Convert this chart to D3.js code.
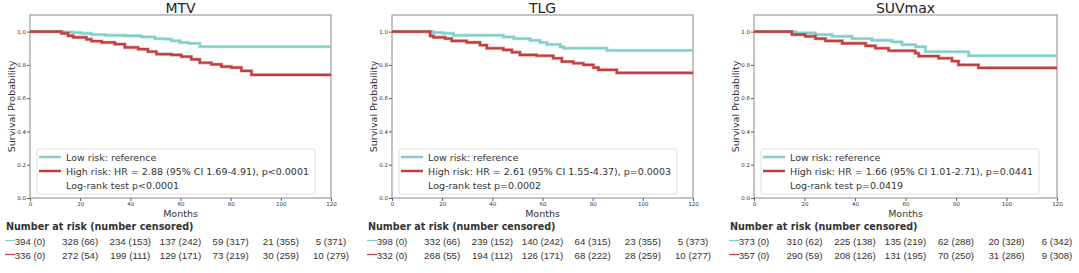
<!DOCTYPE html>
<html>
<head>
<meta charset="utf-8">
<script src="https://cdn.jsdelivr.net/npm/d3@7"></script>
<style>
body { margin: 0; background: #fff; }
svg { font-family: "DejaVu Sans", sans-serif; }
</style>
</head>
<body>
<svg width="1079" height="273"></svg>
<script>
// survival curves, [month, probability] steps
var mtvLow = [[0,1],[12.5,1],[13.5,0.997],[17,0.994],[20.5,0.99],[24.5,0.982],[30,0.978],[38,0.975],[44.4,0.968],[49.7,0.958],[54,0.955],[56.4,0.945],[59.7,0.935],[63,0.93],[67.7,0.91],[120,0.91]];
var mtvHigh = [[0,1],[11.8,1],[12.5,0.99],[15.2,0.975],[17.2,0.966],[22.5,0.954],[24.5,0.943],[28.5,0.935],[33.8,0.925],[37.8,0.905],[43.1,0.895],[47,0.88],[50.4,0.865],[56.4,0.86],[60.3,0.85],[64.3,0.833],[67.7,0.813],[72.3,0.803],[76.3,0.79],[80.3,0.784],[84.3,0.764],[88.3,0.74],[120,0.74]];
var tlgLow = [[0,1],[12.5,1],[16.6,0.994],[20.5,0.99],[24.5,0.978],[44.4,0.968],[48.5,0.958],[55,0.948],[59,0.935],[61.7,0.923],[67,0.909],[68.4,0.9],[85.7,0.887],[120,0.887]];
var tlgHigh = [[0,1],[11.8,1],[15.2,0.974],[16.5,0.966],[21.2,0.958],[23.8,0.944],[29.8,0.935],[35.1,0.919],[37.8,0.9],[44.4,0.89],[47.8,0.876],[51,0.86],[57.7,0.855],[64.3,0.84],[67.7,0.82],[72.3,0.81],[76.3,0.8],[80.3,0.784],[82.3,0.77],[89.6,0.752],[120,0.752]];
var suvLow = [[0,1],[12.4,1],[16.4,0.992],[24.3,0.982],[31,0.972],[38.8,0.958],[46.7,0.948],[54.7,0.938],[58.6,0.922],[64,0.909],[67.9,0.879],[85,0.855],[120,0.855]];
var suvHigh = [[0,1],[11.7,1],[15,0.982],[20.3,0.972],[24.3,0.958],[28.3,0.944],[34.9,0.93],[44.2,0.915],[48.1,0.9],[53.3,0.885],[63.9,0.87],[65.2,0.853],[73.1,0.84],[78.4,0.823],[81,0.8],[88.9,0.782],[120,0.782]];

var titles = ["MTV", "TLG", "SUVmax"];
var lowLabel = "Low risk: reference";
var highLabels = ["High risk: HR = 2.88 (95% CI 1.69-4.91), p<0.0001",
                  "High risk: HR = 2.61 (95% CI 1.55-4.37), p=0.0003",
                  "High risk: HR = 1.66 (95% CI 1.01-2.71), p=0.0441"];
var logrank = ["Log-rank test p<0.0001", "Log-rank test p=0.0002", "Log-rank test p=0.0419"];

var riskTimes = [0, 20, 40, 60, 80, 100, 120];
var mtvRiskLow = ["394 (0)","328 (66)","234 (153)","137 (242)","59 (317)","21 (355)","5 (371)"];
var mtvRiskHigh = ["336 (0)","272 (54)","199 (111)","129 (171)","73 (219)","30 (259)","10 (279)"];
var tlgRiskLow = ["398 (0)","332 (66)","239 (152)","140 (242)","64 (315)","23 (355)","5 (373)"];
var tlgRiskHigh = ["332 (0)","268 (55)","194 (112)","126 (171)","68 (222)","28 (259)","10 (277)"];
var suvRiskLow = ["373 (0)","310 (62)","225 (138)","135 (219)","62 (288)","20 (328)","6 (342)"];
var suvRiskHigh = ["357 (0)","290 (59)","208 (126)","131 (195)","70 (250)","31 (286)","9 (308)"];

var xTicks = [0, 20, 40, 60, 80, 100, 120];
var yTicks = [0, 0.2, 0.4, 0.6, 0.8, 1.0];

var lowColor = "#80d0c7", highColor = "#c43d3d";

var svg = d3.select("svg");

var panels = [
  {left: 30, width: 301, low: mtvLow, high: mtvHigh, rl: mtvRiskLow, rh: mtvRiskHigh},
  {left: 392, width: 301, low: tlgLow, high: tlgHigh, rl: tlgRiskLow, rh: tlgRiskHigh},
  {left: 754, width: 303, low: suvLow, high: suvHigh, rl: suvRiskLow, rh: suvRiskHigh}
];
var plotTop = 15, plotBottom = 198;

panels.forEach(function(p, i) {
  var x = d3.scaleLinear().domain([0, 120]).range([p.left, p.left + p.width]);
  var y = d3.scaleLinear().domain([0, 1.1]).range([plotBottom, plotTop]);
  var g = svg.append("g");

  g.append("text").attr("x", p.left + p.width / 2).attr("y", 13)
    .attr("text-anchor", "middle").attr("font-size", 14).attr("fill", "#222")
    .text(titles[i]);

  // axes
  var xa = g.append("g").attr("transform", "translate(0," + plotBottom + ")")
    .call(d3.axisBottom(x).tickValues(xTicks).tickSize(3).tickPadding(1).tickFormat(d3.format("d")));
  var ya = g.append("g").attr("transform", "translate(" + p.left + ",0)")
    .call(d3.axisLeft(y).tickValues(yTicks).tickSize(3).tickPadding(1).tickFormat(d3.format(".1f")));
  [xa, ya].forEach(function(a) {
    a.selectAll("text").attr("font-size", 5.5).attr("fill", "#333").attr("font-family", "DejaVu Sans");
    a.selectAll("line").attr("stroke", "#555");
    a.select(".domain").remove();
  });
  g.append("rect").attr("x", p.left).attr("y", plotTop).attr("width", p.width).attr("height", plotBottom - plotTop)
    .attr("fill", "none").attr("stroke", "#888").attr("stroke-width", 1);

  g.append("text").attr("transform", "translate(" + (p.left - 15) + "," + ((plotTop + plotBottom) / 2) + ") rotate(-90)")
    .attr("text-anchor", "middle").attr("font-size", 9.5).attr("fill", "#333")
    .text("Survival Probability");
  g.append("text").attr("x", p.left + p.width / 2).attr("y", 217)
    .attr("text-anchor", "middle").attr("font-size", 9.5).attr("fill", "#333").text("Months");

  var line = d3.line().x(function(d) { return x(d[0]); }).y(function(d) { return y(d[1]); })
    .curve(d3.curveStepAfter);
  [[p.low, lowColor], [p.high, highColor]].forEach(function(s) {
    g.append("path").datum(s[0]).attr("d", line).attr("fill", "none")
      .attr("stroke", s[1]).attr("stroke-opacity", 0.45).attr("stroke-width", 3.4);
    g.append("path").datum(s[0]).attr("d", line).attr("fill", "none")
      .attr("stroke", s[1]).attr("stroke-width", 2.2);
  });

  // legend
  var lg = g.append("g");
  var box = lg.append("rect").attr("fill", "#fff").attr("fill-opacity", 0.8)
    .attr("stroke", "#ddd").attr("rx", 2);
  var lx = p.left + 9;
  var rows = [[lowLabel, lowColor], [highLabels[i], highColor], [logrank[i], null]];
  var maxW = 0;
  rows.forEach(function(r, k) {
    var ly = 157 + k * 14;
    if (r[1]) lg.append("line").attr("x1", lx).attr("x2", lx + 22).attr("y1", ly).attr("y2", ly)
      .attr("stroke", r[1]).attr("stroke-width", 2.5);
    var t = lg.append("text").attr("x", lx + 27).attr("y", ly + 3.5).attr("font-size", 9.5)
      .attr("fill", "#333").text(r[0]);
    maxW = Math.max(maxW, t.node().getComputedTextLength());
  });
  box.attr("x", p.left + 7).attr("y", 149).attr("width", maxW + 29 + 6).attr("height", 45);

  // number at risk table
  g.append("text").attr("x", p.left - 24).attr("y", 230).attr("font-size", 9.6)
    .attr("font-weight", "bold").attr("fill", "#333").text("Number at risk (number censored)");
  [[p.rl, lowColor, 244.5], [p.rh, highColor, 258.5]].forEach(function(r) {
    g.append("line").attr("x1", p.left - 25).attr("x2", p.left - 15)
      .attr("y1", r[2] - 4).attr("y2", r[2] - 4).attr("stroke", r[1]).attr("stroke-width", 1.2);
    g.selectAll(null).data(riskTimes).enter().append("text")
      .attr("x", function(d) { return x(d); }).attr("y", r[2])
      .attr("text-anchor", "middle").attr("font-size", 9.7).attr("fill", "#333")
      .attr("font-family", "Liberation Sans")
      .text(function(d, k) { return r[0][k]; });
  });
});
</script>
</body>
</html>
